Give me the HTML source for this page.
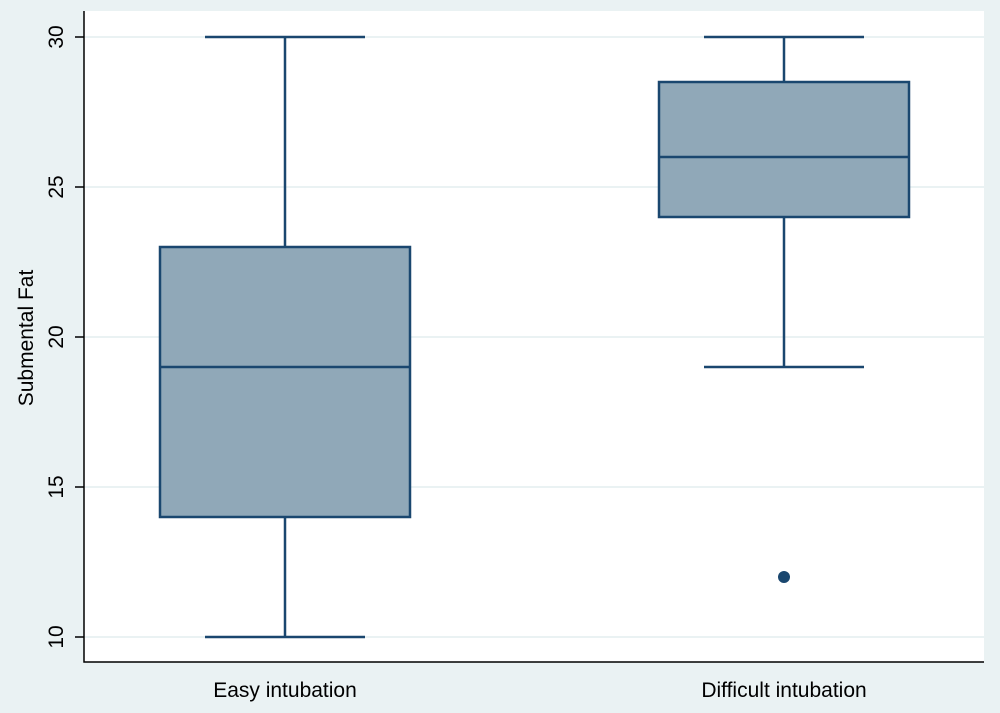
<!DOCTYPE html>
<html><head><meta charset="utf-8"><style>
body{margin:0;background:#eaf2f3;}
svg{display:block;font-family:"Liberation Sans",sans-serif;}
</style></head><body>
<svg id="c" width="1000" height="713">
<rect x="0" y="0" width="1000" height="713" fill="#eaf2f3"/>
<rect x="84" y="11" width="900" height="651" fill="#ffffff"/>
<g id="grid"></g><g id="axes"></g><g id="boxes"></g>
<text x="0" y="0" transform="translate(33,338) rotate(-90)" text-anchor="middle" font-size="21" fill="#000">Submental Fat</text>
</svg>
<script>
const categories=["Easy intubation","Difficult intubation"];
const mins=[10,19];
const q1s=[14,24];
const medians=[19,26];
const q3s=[23,28.5];
const maxs=[30,30];
const outliers=[[],[12]];
const yTicks=[10,15,20,25,30];
const NS="http://www.w3.org/2000/svg";
function y(v){return 637-(v-10)*30;}
const centers=[285,784];
function x(i){return centers[i];}
function mk(tag,attrs,parent){const e=document.createElementNS(NS,tag);for(const k in attrs)e.setAttribute(k,attrs[k]);parent.appendChild(e);return e;}
const grid=document.getElementById('grid'),axes=document.getElementById('axes'),boxes=document.getElementById('boxes');
yTicks.forEach(t=>{
 const g=mk('line',{x1:84,x2:984,y1:y(t),y2:y(t),stroke:'#eaf2f3','stroke-width':2},grid);
 
 
 const tk=mk('line',{x1:75,x2:84,y1:y(t),y2:y(t),stroke:'#000','stroke-width':1.5},axes);
 
 
 const lb=mk('text',{transform:`translate(63,${y(t)}) rotate(-90)`,'text-anchor':'middle','font-size':21,fill:'#000'},axes);
 lb.textContent=t;
 
 
});
const ax=mk('path',{d:'M84,11 V662 H984',fill:'none',stroke:'#000','stroke-width':1.5},axes);


const col='#1a476f';
categories.forEach((c,i)=>{
 const cx=x(i),hw=125,cw=80;
 const g=mk('g',{},boxes);
 
 
 mk('line',{x1:cx,x2:cx,y1:y(maxs[i]),y2:y(q3s[i]),stroke:col,'stroke-width':2.5},g);
 mk('line',{x1:cx,x2:cx,y1:y(q1s[i]),y2:y(mins[i]),stroke:col,'stroke-width':2.5},g);
 mk('line',{x1:cx-cw,x2:cx+cw,y1:y(maxs[i]),y2:y(maxs[i]),stroke:col,'stroke-width':2.5},g);
 mk('line',{x1:cx-cw,x2:cx+cw,y1:y(mins[i]),y2:y(mins[i]),stroke:col,'stroke-width':2.5},g);
 mk('rect',{x:cx-hw,y:y(q3s[i]),width:2*hw,height:y(q1s[i])-y(q3s[i]),fill:'#90a8b8',stroke:col,'stroke-width':2.5},g);
 mk('line',{x1:cx-hw,x2:cx+hw,y1:y(medians[i]),y2:y(medians[i]),stroke:col,'stroke-width':2.5},g);
 outliers[i].forEach(o=>{
  const d=mk('circle',{cx:cx,cy:y(o),r:6,fill:col},g);
  
  
 });
 const lb=mk('text',{x:cx,y:697,'text-anchor':'middle','font-size':21,fill:'#000'},axes);
 lb.textContent=c;
 
 
});
</script>
</body></html>
